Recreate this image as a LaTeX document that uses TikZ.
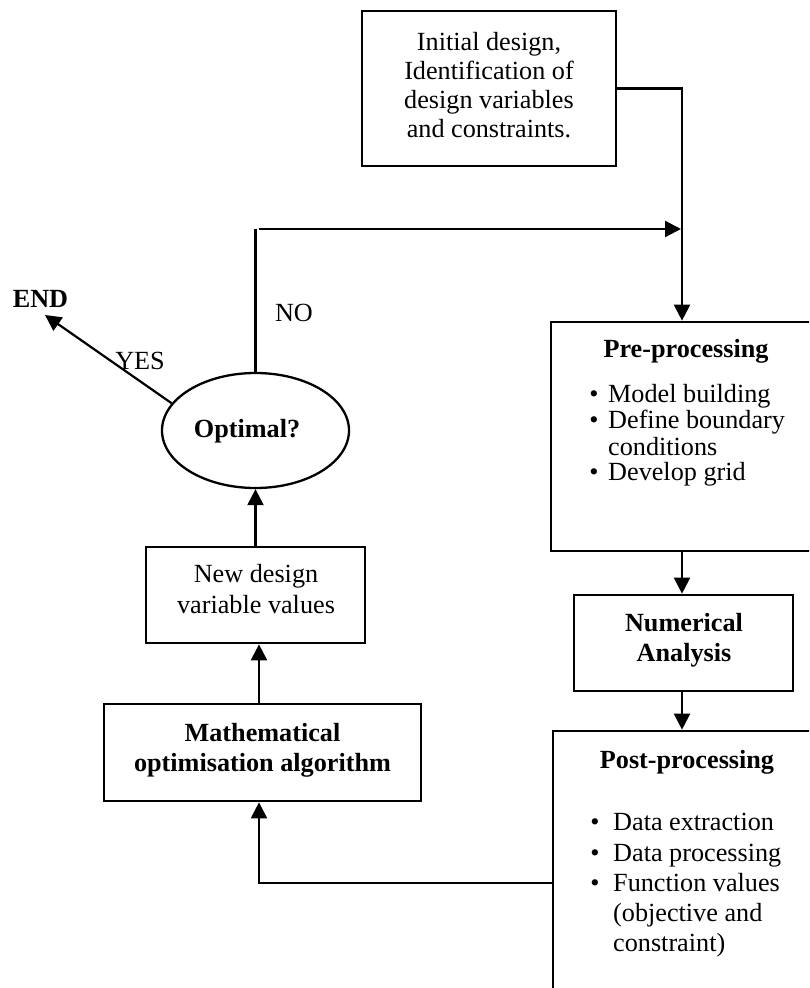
\documentclass[tikz,border=0pt]{standalone}
\usepackage{fontspec}
\setmainfont{Liberation Serif}
\usetikzlibrary{shapes.geometric,arrows.meta}
\begin{document}
\begin{tikzpicture}[x=1pt,y=-1pt,
  boxst/.style={draw, line width=2.7pt, rectangle, inner sep=0pt},
  conn/.style={line width=2.2pt},
  arr/.style={conn, -{Triangle[length=16pt,width=16pt]}},
  txt/.style={inner sep=0pt, anchor=base, font=\fontsize{26.2}{30}\selectfont},
  txtl/.style={txt, anchor=base west},
  btxt/.style={txt, font=\fontsize{26.2}{30}\selectfont\bfseries}]
\useasboundingbox (0,0) rectangle (809,988);
\clip (0,0) rectangle (809,988);
% boxes
\node[boxst, minimum width=254pt, minimum height=155pt] (top) at (489,88.5) {};
\node[boxst, minimum width=271pt, minimum height=229pt] (pre) at (686.5,436.5) {};
\node[boxst, minimum width=219pt, minimum height=96pt] (num) at (683.5,643) {};
\node[boxst, minimum width=269pt, minimum height=269pt] (post) at (687.5,865.5) {};
\node[boxst, minimum width=219pt, minimum height=96pt] (newd) at (255.5,595) {};
\node[boxst, minimum width=317pt, minimum height=97pt] (math) at (262.5,752.5) {};
\node[draw, ellipse, line width=2.3pt, inner sep=0pt, minimum width=187pt, minimum height=115pt] (opt) at (255.5,430.5) {};
% texts
\node[txt] (t1) at (489,50) {Initial design,};
\node[txt] (t2) at (489,79) {Identification of};
\node[txt] (t3) at (489,108) {design variables};
\node[txt] (t4) at (489,137) {and constraints.};
\node[btxt] (pt) at (686,357) {Pre-processing};
\node[txt] (pb1) at (594,402) {\textbullet};
\node[txtl] (p1) at (608,402) {Model building};
\node[txt] (pb2) at (594,428) {\textbullet};
\node[txtl] (p2) at (608,428) {Define boundary};
\node[txtl] (p3) at (608,455) {conditions};
\node[txt] (pb4) at (594,480) {\textbullet};
\node[txtl] (p4) at (608,480) {Develop grid};
\node[btxt] (n1) at (684,631) {Numerical};
\node[btxt] (n2) at (684,661) {Analysis};
\node[btxt] (qt) at (687,768) {Post-processing};
\node[txt] (qb1) at (595,830) {\textbullet};
\node[txtl] (q1) at (613,830) {Data extraction};
\node[txt] (qb2) at (595,861) {\textbullet};
\node[txtl] (q2) at (613,861) {Data processing};
\node[txt] (qb3) at (595,891) {\textbullet};
\node[txtl] (q3) at (613,891) {Function values};
\node[txtl] (q4) at (613,921) {(objective and};
\node[txtl] (q5) at (613,951) {constraint)};
\node[txt] (d1) at (256,582) {New design};
\node[txt] (d2) at (256,613) {variable values};
\node[btxt] (m1) at (262.5,741) {Mathematical};
\node[btxt] (m2) at (262.5,771) {optimisation algorithm};
\node[btxt] (ot) at (247,437) {Optimal?};
\node[btxt] (endn) at (40.5,307) {END};
\node[txt] (no) at (294,321) {NO};
\node[txt] (yes) at (140,369) {YES};
% connector coordinates
\coordinate (jx) at (682,229);
\coordinate (lx) at (259,883);
\coordinate (endtip) at (45,315);
% connectors
\draw[arr] (top.east) -| (jx |- pre.north);
\draw[conn] (opt.north) -- (opt.north |- jx);
\draw[arr] ([xshift=3pt]opt.north |- jx) -- ([xshift=-1pt]jx);
\draw[arr] (opt.162) -- (endtip);
\draw[arr] (jx |- pre.south) -- (jx |- num.north);
\draw[arr] (jx |- num.south) -- (jx |- post.north);
\draw[arr] (lx -| post.west) -- (lx) -- (lx |- math.south);
\draw[arr] (lx |- math.north) -- (lx |- newd.south);
\draw[arr] (newd.north) -- (opt.south);
\end{tikzpicture}
\end{document}
